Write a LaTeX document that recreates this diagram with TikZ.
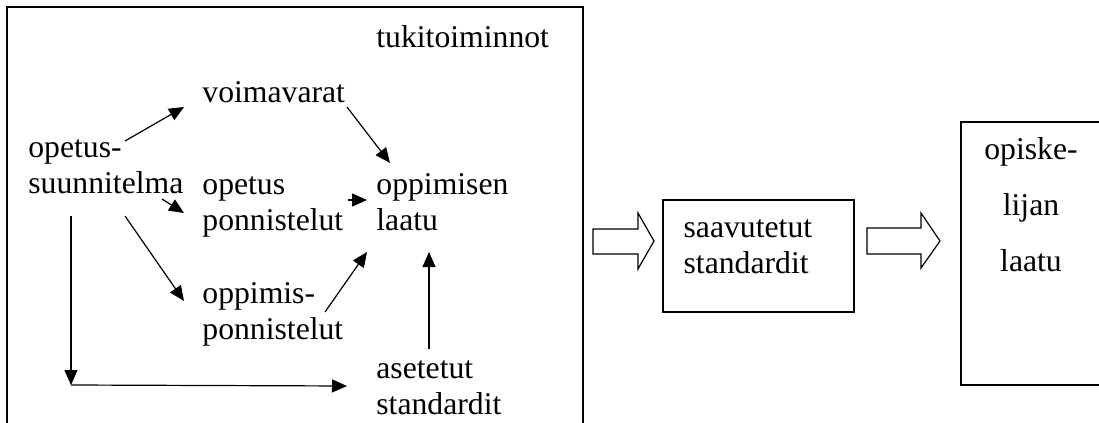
\documentclass[tikz,border=0pt]{standalone}
\usepackage{fontspec}
\setmainfont{Liberation Serif}
\usetikzlibrary{arrows.meta}

\begin{document}
\begin{tikzpicture}[x=0.5pt, y=-0.5pt,
    txt/.style={font=\fontsize{15.85}{18}\selectfont, inner sep=0pt,
                anchor=north west, align=left},
    widetxt/.style={font=\fontsize{15.85}{28}\selectfont, inner sep=0pt,
                anchor=north, align=center},
    box/.style={rectangle, draw=black, line width=0.75pt, inner sep=0pt},
    arrow/.style={-{Triangle[length=7.5pt, width=6.5pt]}, line width=0.6pt},
    hollow/.style={draw=black, line width=0.6pt, line join=miter}
]
    \useasboundingbox (0,0) rectangle (1099,423);

    % Support frame
    \draw[box] (7,7) rectangle (583,460);
    \node[txt] (tuki) at (376,21.8) {\strut tukitoiminnot};

    % Inner nodes
    \node[txt] (voima) at (202,76.8) {\strut voimavarat};
    \node[txt] (opsuun) at (28,131.8) {\strut opetus-\\suunnitelma};
    \node[txt] (opetusp) at (202,168.8) {\strut opetus\\ponnistelut};
    \node[txt] (oppimisen) at (376,168.8) {\strut oppimisen\\laatu};
    \node[txt] (oppimisp) at (202,277.8) {\strut oppimis-\\ponnistelut};
    \node[txt] (asetetut) at (376,352.8) {\strut asetetut\\standardit};

    % Arrows
    \draw[arrow] ([shift={(97,9.2)}]opsuun.north west) -- ([shift={(-18,30.2)}]voima.north west);
    \draw[arrow] ([shift={(145,30.2)}]voima.north west) -- ([shift={(14,-5.8)}]oppimisen.north west);
    \draw[arrow] ([shift={(134,67.2)}]opsuun.north west) -- ([shift={(-18,44.2)}]opetusp.north west);
    \draw[arrow] ([shift={(146,31.2)}]opetusp.north west) -- ([shift={(-9,31.2)}]oppimisen.north west);
    \draw[arrow] ([shift={(97,84.2)}]opsuun.north west) -- ([shift={(-18,23.2)}]oppimisp.north west);
    \draw[arrow] ([shift={(123,34.2)}]oppimisp.north west) -- ([shift={(-9,83.2)}]oppimisen.north west);
    \draw[arrow] ([shift={(53,-3.8)}]asetetut.north west) -- ([shift={(53,83.2)}]oppimisen.north west);
    \coordinate (corner) at ([shift={(43,253.2)}]opsuun.north west);
    \draw[arrow] ([shift={(43,84.2)}]opsuun.north west) -- (corner);
    \draw[arrow] (corner) -- ([shift={(-29,33.2)}]asetetut.north west);

    % Achieved standards
    \node[box, minimum width=95.5pt, minimum height=56pt] (saav) at (758.5,256) {};
    \node[txt] (saavtxt) at ([shift={(21,12.8)}]saav.north west) {\strut saavutetut\\standardit};

    % Student quality
    \node[box, minimum width=70pt, minimum height=131.5pt] (opiske) at (1031,253.5) {};
    \node[widetxt] (opisketxt) at ([yshift=0.6pt]opiske.north) {\strut opiske-\\lijan\\laatu};

    % Block arrows
    \draw[hollow] (593,229) -- (638,229) -- (638,213) -- (654,241) -- (638,269)
        -- (638,254) -- (593,254) -- cycle;
    \draw[hollow] (867,228) -- (921,228) -- (921,213) -- (940,241) -- (921,268)
        -- (921,254) -- (867,254) -- cycle;
\end{tikzpicture}
\end{document}
